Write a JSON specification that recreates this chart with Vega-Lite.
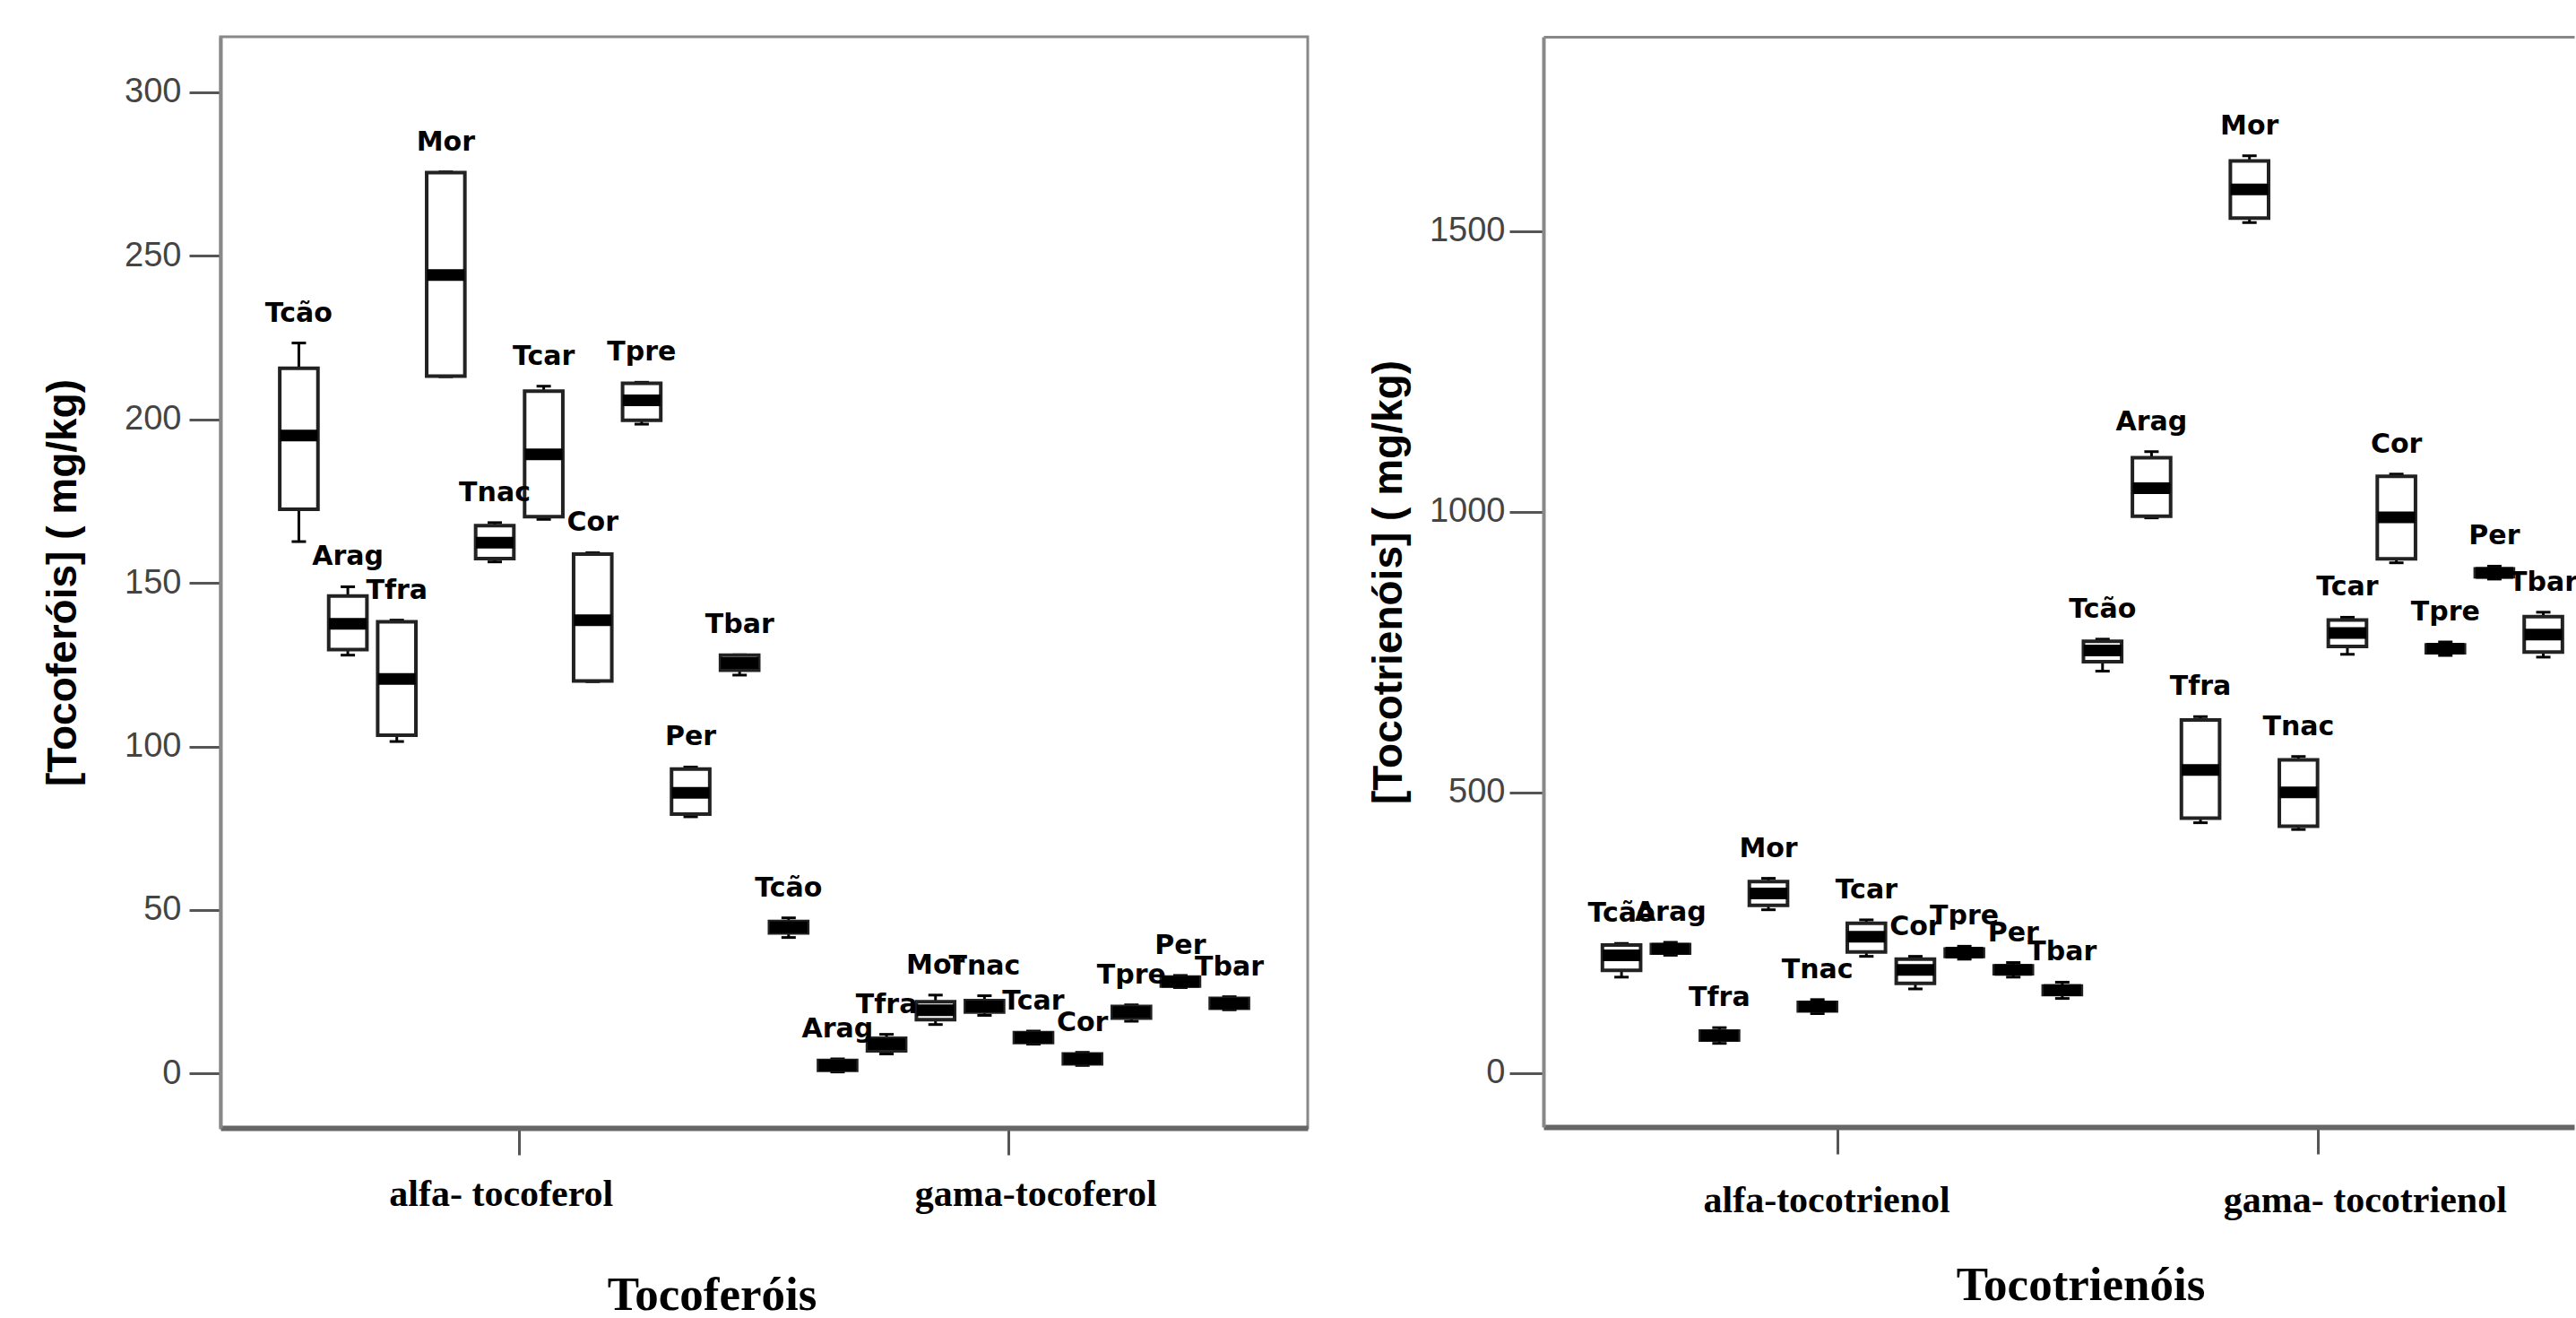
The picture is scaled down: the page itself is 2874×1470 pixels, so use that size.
{
  "$schema": "https://vega.github.io/schema/vega-lite/v6.json",
  "background": "white",
  "autosize": {"type": "pad"},
  "padding": {"left": 46, "top": 39, "right": 0, "bottom": 0},
  "spacing": 65,
  "config": {
    "view": {"stroke": null},
    "font": "Liberation Sans",
    "axis": {"grid": false, "labelLimit": 0},
    "tick": {"opacity": 1}
  },
  "datasets": {
    "toco": [
      {"grupo": "alfa- tocoferol", "amostra": "Tcão", "min": 162.6, "q1": 172.5, "mediana": 195.0, "q3": 215.6, "max": 223.3},
      {"grupo": "alfa- tocoferol", "amostra": "Arag", "min": 127.9, "q1": 129.6, "mediana": 137.5, "q3": 146.0, "max": 148.8},
      {"grupo": "alfa- tocoferol", "amostra": "Tfra", "min": 101.5, "q1": 103.4, "mediana": 120.6, "q3": 138.1, "max": 138.6},
      {"grupo": "alfa- tocoferol", "amostra": "Mor", "min": 213.0, "q1": 213.2, "mediana": 244.1, "q3": 275.4, "max": 275.6},
      {"grupo": "alfa- tocoferol", "amostra": "Tnac", "min": 156.4, "q1": 157.4, "mediana": 162.3, "q3": 167.5, "max": 168.4},
      {"grupo": "alfa- tocoferol", "amostra": "Tcar", "min": 169.4, "q1": 170.2, "mediana": 189.3, "q3": 208.6, "max": 210.1},
      {"grupo": "alfa- tocoferol", "amostra": "Cor", "min": 119.8, "q1": 120.0, "mediana": 138.6, "q3": 158.8, "max": 159.2},
      {"grupo": "alfa- tocoferol", "amostra": "Tpre", "min": 198.5, "q1": 199.7, "mediana": 205.8, "q3": 211.0, "max": 211.3},
      {"grupo": "alfa- tocoferol", "amostra": "Per", "min": 78.5, "q1": 79.3, "mediana": 85.8, "q3": 93.1, "max": 93.7},
      {"grupo": "alfa- tocoferol", "amostra": "Tbar", "min": 121.8, "q1": 123.3, "mediana": 125.5, "q3": 127.9, "max": 128.0},
      {"grupo": "gama-tocoferol", "amostra": "Tcão", "min": 41.6, "q1": 43.0, "mediana": 44.7, "q3": 46.5, "max": 47.6},
      {"grupo": "gama-tocoferol", "amostra": "Arag", "min": 0.5, "q1": 1.0, "mediana": 2.5, "q3": 4.0, "max": 4.5},
      {"grupo": "gama-tocoferol", "amostra": "Tfra", "min": 6.0, "q1": 7.0, "mediana": 9.0, "q3": 10.8, "max": 12.0},
      {"grupo": "gama-tocoferol", "amostra": "Mor", "min": 15.0, "q1": 16.5, "mediana": 19.4, "q3": 22.0, "max": 24.0},
      {"grupo": "gama-tocoferol", "amostra": "Tnac", "min": 17.8, "q1": 18.8, "mediana": 20.5, "q3": 22.3, "max": 23.8},
      {"grupo": "gama-tocoferol", "amostra": "Tcar", "min": 9.0, "q1": 9.5, "mediana": 11.0, "q3": 12.5, "max": 13.0},
      {"grupo": "gama-tocoferol", "amostra": "Cor", "min": 2.5, "q1": 3.0, "mediana": 4.5, "q3": 6.0, "max": 6.5},
      {"grupo": "gama-tocoferol", "amostra": "Tpre", "min": 16.0, "q1": 17.0, "mediana": 18.8, "q3": 20.5, "max": 21.0},
      {"grupo": "gama-tocoferol", "amostra": "Per", "min": 26.3, "q1": 26.8, "mediana": 28.1, "q3": 29.5, "max": 30.0},
      {"grupo": "gama-tocoferol", "amostra": "Tbar", "min": 19.5, "q1": 20.0, "mediana": 21.4, "q3": 23.0, "max": 23.5}
    ],
    "tri": [
      {"grupo": "alfa-tocotrienol", "amostra": "Tcão", "min": 171, "q1": 183, "mediana": 210, "q3": 228, "max": 231},
      {"grupo": "alfa-tocotrienol", "amostra": "Arag", "min": 210, "q1": 214, "mediana": 221.6, "q3": 229, "max": 233},
      {"grupo": "alfa-tocotrienol", "amostra": "Tfra", "min": 53, "q1": 59, "mediana": 67, "q3": 75, "max": 81},
      {"grupo": "alfa-tocotrienol", "amostra": "Mor", "min": 291, "q1": 299, "mediana": 320, "q3": 341, "max": 347},
      {"grupo": "alfa-tocotrienol", "amostra": "Tnac", "min": 106, "q1": 111, "mediana": 119, "q3": 126, "max": 131},
      {"grupo": "alfa-tocotrienol", "amostra": "Tcar", "min": 208, "q1": 216, "mediana": 243, "q3": 267, "max": 273},
      {"grupo": "alfa-tocotrienol", "amostra": "Cor", "min": 150, "q1": 160, "mediana": 184, "q3": 203, "max": 208},
      {"grupo": "alfa-tocotrienol", "amostra": "Tpre", "min": 203, "q1": 208, "mediana": 214.6, "q3": 221, "max": 226},
      {"grupo": "alfa-tocotrienol", "amostra": "Per", "min": 171, "q1": 177, "mediana": 184, "q3": 191, "max": 197},
      {"grupo": "alfa-tocotrienol", "amostra": "Tbar", "min": 133, "q1": 140, "mediana": 148, "q3": 155, "max": 162},
      {"grupo": "gama- tocotrienol", "amostra": "Tcão", "min": 716, "q1": 733, "mediana": 753, "q3": 769, "max": 773},
      {"grupo": "gama- tocotrienol", "amostra": "Arag", "min": 989, "q1": 992, "mediana": 1042, "q3": 1096, "max": 1107},
      {"grupo": "gama- tocotrienol", "amostra": "Tfra", "min": 446, "q1": 454, "mediana": 540, "q3": 629, "max": 635},
      {"grupo": "gama- tocotrienol", "amostra": "Mor", "min": 1515, "q1": 1523, "mediana": 1574, "q3": 1625, "max": 1634},
      {"grupo": "gama- tocotrienol", "amostra": "Tnac", "min": 434, "q1": 440, "mediana": 500, "q3": 558, "max": 564},
      {"grupo": "gama- tocotrienol", "amostra": "Tcar", "min": 746, "q1": 760, "mediana": 784, "q3": 807, "max": 812},
      {"grupo": "gama- tocotrienol", "amostra": "Cor", "min": 909, "q1": 916, "mediana": 990, "q3": 1063, "max": 1067},
      {"grupo": "gama- tocotrienol", "amostra": "Tpre", "min": 744, "q1": 749, "mediana": 756, "q3": 763, "max": 768},
      {"grupo": "gama- tocotrienol", "amostra": "Per", "min": 880, "q1": 884, "mediana": 891, "q3": 898, "max": 903},
      {"grupo": "gama- tocotrienol", "amostra": "Tbar", "min": 741, "q1": 750, "mediana": 781, "q3": 813, "max": 821}
    ]
  },
  "hconcat": [
    {
      "width": 1213,
      "height": 1217,
      "view": {"stroke": "#888888", "strokeWidth": 3},
      "data": {"name": "toco"},
      "encoding": {
        "x": {
          "field": "grupo", "type": "nominal",
          "sort": ["alfa- tocoferol", "gama-tocoferol"],
          "scale": {"paddingInner": 0, "paddingOuter": 0.11},
          "title": "Tocoferóis",
          "axis": {
            "domainColor": "#666666", "domainWidth": 6,
            "tickSize": 30, "tickWidth": 3, "tickColor": "#555555",
            "labelAngle": 0, "labelFont": "Liberation Serif", "labelFontWeight": "bold",
            "labelFontSize": 42, "labelColor": "black", "labelPadding": 23,
            "labelOffset": {"condition": {"test": "datum.value == 'alfa- tocoferol'", "value": -20}, "value": 30},
            "titleFont": "Liberation Serif", "titleFontWeight": "bold", "titleFontSize": 53,
            "titleColor": "black", "titlePadding": 66, "titleX": 548
          }
        },
        "xOffset": {
          "field": "amostra", "type": "nominal",
          "sort": ["Tcão", "Arag", "Tfra", "Mor", "Tnac", "Tcar", "Cor", "Tpre", "Per", "Tbar"],
          "scale": {"paddingInner": 0.22, "paddingOuter": 0.11}
        }
      },
      "layer": [
        {
          "mark": {"type": "rule", "color": "black", "strokeWidth": 3},
          "encoding": {
            "y": {
              "field": "min", "type": "quantitative", "title": "[Tocoferóis] ( mg/kg)",
              "scale": {"domain": [-16.6, 316.9], "nice": false, "zero": false},
              "axis": {
                "values": [0, 50, 100, 150, 200, 250, 300],
                "domainColor": "#888888", "domainWidth": 4,
                "tickSize": 35, "tickWidth": 3, "tickColor": "#555555",
                "labelFont": "Liberation Sans", "labelFontSize": 38, "labelColor": "#444444", "labelPadding": 9,
                "titleFont": "Liberation Sans", "titleFontWeight": "bold", "titleFontSize": 46,
                "titleColor": "black", "titlePadding": 44
              }
            },
            "y2": {"field": "max"}
          }
        },
        {
          "mark": {"type": "tick", "color": "black", "thickness": 3, "size": 16, "opacity": 1},
          "encoding": {"y": {"field": "min", "type": "quantitative", "title": "[Tocoferóis] ( mg/kg)"}}
        },
        {
          "mark": {"type": "tick", "color": "black", "thickness": 3, "size": 16, "opacity": 1},
          "encoding": {"y": {"field": "max", "type": "quantitative", "title": "[Tocoferóis] ( mg/kg)"}}
        },
        {
          "mark": {"type": "bar", "fill": "white", "stroke": "#222222", "strokeWidth": 4, "opacity": 1},
          "encoding": {
            "y": {"field": "q1", "type": "quantitative", "title": "[Tocoferóis] ( mg/kg)"},
            "y2": {"field": "q3"}
          }
        },
        {
          "mark": {"type": "tick", "color": "black", "thickness": 13, "size": 42, "opacity": 1},
          "encoding": {"y": {"field": "mediana", "type": "quantitative", "title": "[Tocoferóis] ( mg/kg)"}}
        },
        {
          "mark": {"type": "text", "font": "DejaVu Sans", "fontWeight": "bold", "fontSize": 30, "color": "black", "baseline": "alphabetic", "dy": -24},
          "encoding": {
            "y": {"field": "max", "type": "quantitative", "title": "[Tocoferóis] ( mg/kg)"},
            "text": {"field": "amostra"}
          }
        }
      ]
    },
    {
      "width": 1150,
      "height": 1216,
      "data": {"name": "tri"},
      "encoding": {
        "x": {
          "field": "grupo", "type": "nominal",
          "sort": ["alfa-tocotrienol", "gama- tocotrienol"],
          "scale": {"paddingInner": 0, "paddingOuter": 0.0714, "align": 0.78},
          "title": "Tocotrienóis",
          "axis": {
            "domainColor": "#666666", "domainWidth": 6,
            "tickSize": 30, "tickWidth": 3, "tickColor": "#555555",
            "labelAngle": 0, "labelFont": "Liberation Serif", "labelFontWeight": "bold",
            "labelFontSize": 42, "labelColor": "black", "labelPadding": 31,
            "labelOffset": {"condition": {"test": "datum.value == 'alfa-tocotrienol'", "value": -12}, "value": 52},
            "titleFont": "Liberation Serif", "titleFontWeight": "bold", "titleFontSize": 53,
            "titleColor": "black", "titlePadding": 48, "titleX": 599
          }
        },
        "xOffset": {
          "field": "amostra", "type": "nominal",
          "sort": ["Tcão", "Arag", "Tfra", "Mor", "Tnac", "Tcar", "Cor", "Tpre", "Per", "Tbar"],
          "scale": {"paddingInner": 0.22, "paddingOuter": 0.11}
        }
      },
      "layer": [
        {
          "mark": {"type": "rule", "color": "black", "strokeWidth": 3},
          "encoding": {
            "y": {
              "field": "min", "type": "quantitative", "title": "[Tocotrienóis] ( mg/kg)",
              "scale": {"domain": [-96, 1846], "nice": false, "zero": false},
              "axis": {
                "values": [0, 500, 1000, 1500, 1846],
                "format": "d",
                "labelExpr": "datum.value > 1600 ? '' : datum.label",
                "labelFontSize": {"condition": {"test": "datum.value > 1600", "value": 0}, "value": 38},
                "grid": true,
                "gridColor": "#888888", "gridWidth": 3,
                "gridOpacity": {"condition": {"test": "datum.value > 1600", "value": 1}, "value": 0},
                "tickOpacity": {"condition": {"test": "datum.value > 1600", "value": 0}, "value": 1},
                "domainColor": "#888888", "domainWidth": 4,
                "tickSize": 38, "tickWidth": 3, "tickColor": "#555555",
                "labelFont": "Liberation Sans", "labelColor": "#444444", "labelPadding": 5,
                "titleFont": "Liberation Sans", "titleFontWeight": "bold", "titleFontSize": 46,
                "titleColor": "black", "titlePadding": 21
              }
            },
            "y2": {"field": "max"}
          }
        },
        {
          "mark": {"type": "tick", "color": "black", "thickness": 3, "size": 16, "opacity": 1},
          "encoding": {"y": {"field": "min", "type": "quantitative", "title": "[Tocotrienóis] ( mg/kg)"}}
        },
        {
          "mark": {"type": "tick", "color": "black", "thickness": 3, "size": 16, "opacity": 1},
          "encoding": {"y": {"field": "max", "type": "quantitative", "title": "[Tocotrienóis] ( mg/kg)"}}
        },
        {
          "mark": {"type": "bar", "fill": "white", "stroke": "#222222", "strokeWidth": 4, "opacity": 1},
          "encoding": {
            "y": {"field": "q1", "type": "quantitative", "title": "[Tocotrienóis] ( mg/kg)"},
            "y2": {"field": "q3"}
          }
        },
        {
          "mark": {"type": "tick", "color": "black", "thickness": 13, "size": 42, "opacity": 1},
          "encoding": {"y": {"field": "mediana", "type": "quantitative", "title": "[Tocotrienóis] ( mg/kg)"}}
        },
        {
          "mark": {"type": "text", "font": "DejaVu Sans", "fontWeight": "bold", "fontSize": 30, "color": "black", "baseline": "alphabetic", "dy": -24},
          "encoding": {
            "y": {"field": "max", "type": "quantitative", "title": "[Tocotrienóis] ( mg/kg)"},
            "text": {"field": "amostra"}
          }
        }
      ]
    }
  ]
}
